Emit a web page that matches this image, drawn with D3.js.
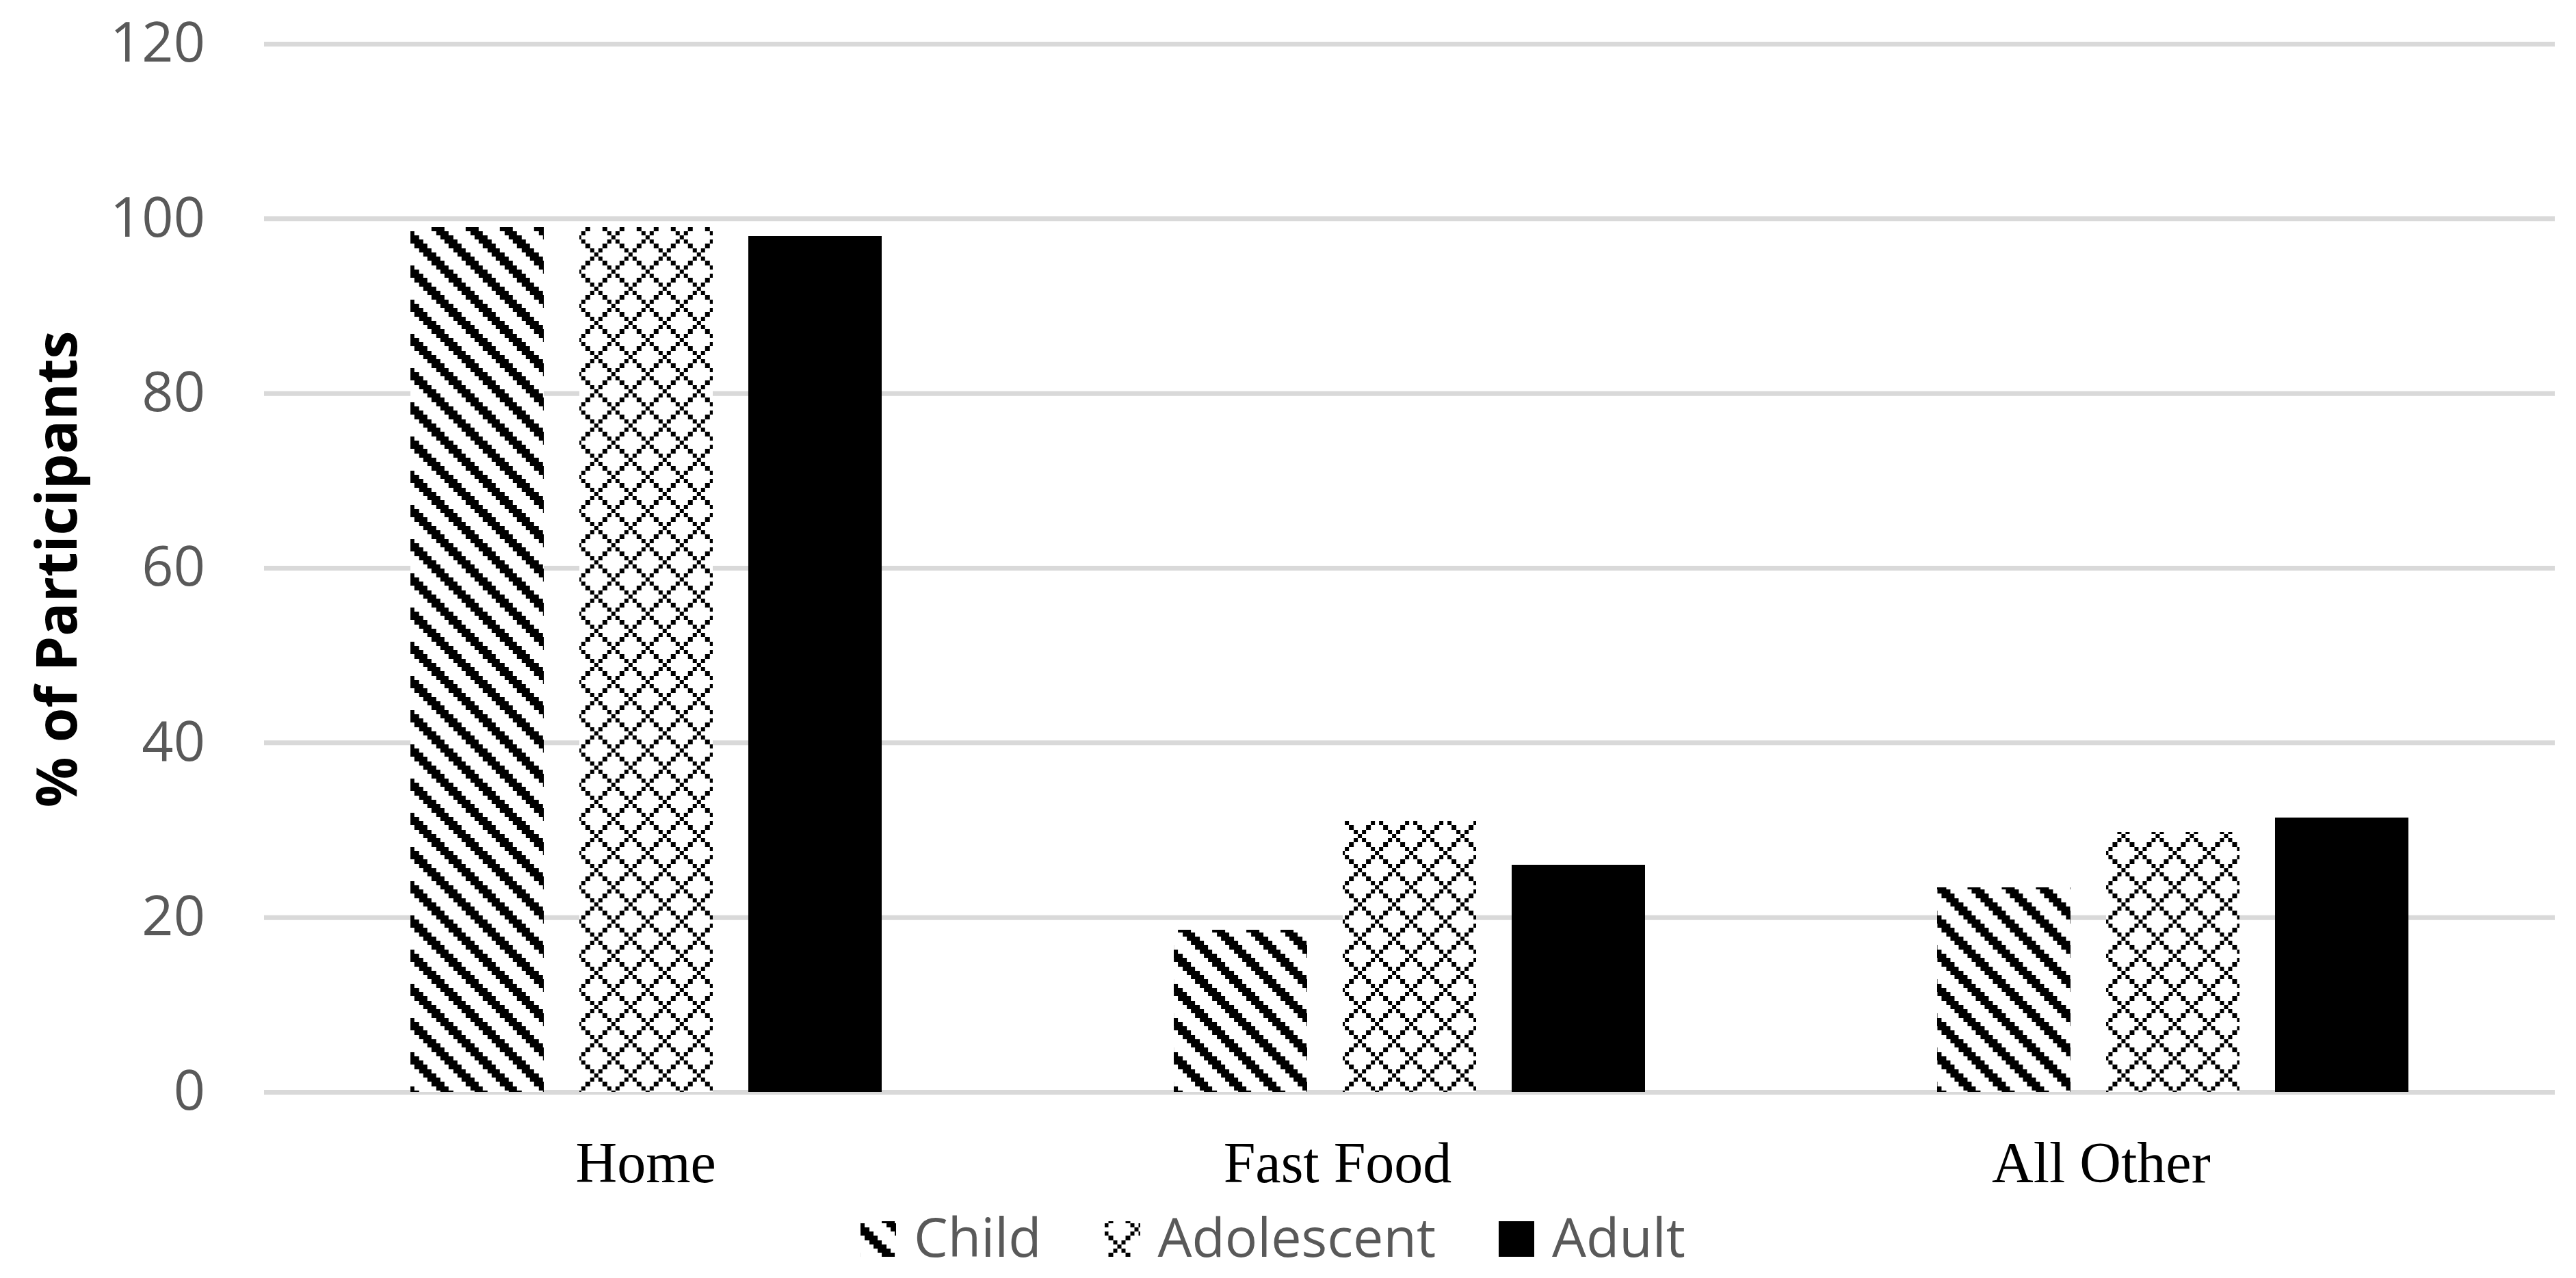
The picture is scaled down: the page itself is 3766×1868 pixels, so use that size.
<!DOCTYPE html>
<html>
<head>
<meta charset="utf-8">
<script src="https://cdn.jsdelivr.net/npm/d3@7"></script>
<style>
  body { margin: 0; background: #ffffff; }
  svg { display: block; }
</style>
</head>
<body>
<div id="scene"></div>
<script>
// chart values
var categories = ["Home", "Fast Food", "All Other"];
// the source labels carry trailing blanks, which is why two of them sit left of their bars
var categoryLabels = ["Home", "Fast Food\u00a0\u00a0\u00a0\u00a0\u00a0\u00a0\u00a0\u00a0\u00a0\u00a0", "All Other\u00a0\u00a0\u00a0\u00a0\u00a0\u00a0\u00a0\u00a0\u00a0\u00a0"];
var seriesNames = ["Child", "Adolescent", "Adult"];
var childValues = [99, 18.6, 23.4];
var adolescentValues = [99, 31, 29.8];
var adultValues = [98, 26, 31.4];
var yTicks = [0, 20, 40, 60, 80, 100, 120];
var yTitle = "% of Participants";

var ctx = {
  w: 3766,
  h: 1868,
  left: 386,
  right: 3735,
  top: 64,
  bottom: 1596,
  cell: 6.25,
};

// 8x8 bitmaps of the fill patterns (1 = black)
var stripeBits = [];
var latticeBits = [];
for (var r = 0; r < 8; r++) {
  var s = "", l = "";
  for (var c = 0; c < 8; c++) {
    var d = (c - r + 8) % 8;
    s += (d <= 2) ? "1" : "0";
    l += (c == r || c == (6 - r + 8) % 8) ? "1" : "0";
  }
  stripeBits.push(s);
  latticeBits.push(l);
}

var makePattern = function(defs, id, bits) {
  var p = defs.append("pattern")
    .attr("id", id)
    .attr("patternUnits", "userSpaceOnUse")
    .attr("x", 0).attr("y", 0)
    .attr("width", ctx.cell * 8)
    .attr("height", ctx.cell * 8);
  p.append("rect")
    .attr("width", ctx.cell * 8)
    .attr("height", ctx.cell * 8)
    .attr("fill", "#ffffff");
  for (var r = 0; r < 8; r++) {
    for (var c = 0; c < 8; c++) {
      if (bits[r][c] === "1") {
        p.append("rect")
          .attr("x", c * ctx.cell)
          .attr("y", r * ctx.cell)
          .attr("width", ctx.cell)
          .attr("height", ctx.cell)
          .attr("fill", "#000000")
          .attr("shape-rendering", "crispEdges");
      }
    }
  }
};

var createScene = function() {
  var svg = d3.select("#scene").append("svg")
    .attr("width", ctx.w)
    .attr("height", ctx.h);

  var defs = svg.append("defs");
  makePattern(defs, "childFill", stripeBits);
  makePattern(defs, "adolescentFill", latticeBits);

  var fills = ["url(#childFill)", "url(#adolescentFill)", "#000000"];

  var x0 = d3.scaleBand()
    .domain(categories)
    .range([ctx.left, ctx.right])
    .paddingInner(0.383)
    .paddingOuter(0.1915);

  var x1 = d3.scaleBand()
    .domain(seriesNames)
    .range([0, x0.bandwidth()])
    .paddingInner(0.211);

  var y = d3.scaleLinear()
    .domain([0, 120])
    .range([ctx.bottom, ctx.top]);

  // gridlines
  var yAxis = d3.axisLeft(y)
    .tickValues(yTicks)
    .tickSize(-(ctx.right - ctx.left))
    .tickPadding(86)
    .tickFormat(d3.format("d"));

  var gy = svg.append("g")
    .attr("transform", "translate(" + ctx.left + ",0)")
    .call(yAxis);
  gy.select(".domain").remove();
  gy.selectAll(".tick line")
    .attr("stroke", "#d9d9d9")
    .attr("stroke-width", 7);
  gy.selectAll(".tick text")
    .attr("fill", "#595959")
    .attr("font-family", "'Open Sans', sans-serif")
    .attr("font-size", 81);

  // bars
  var rows = categories.map(function(cat, i) {
    return {
      cat: cat,
      vals: [childValues[i], adolescentValues[i], adultValues[i]]
    };
  });

  var groups = svg.append("g").selectAll("g")
    .data(rows)
    .enter()
    .append("g")
    .attr("transform", function(d) { return "translate(" + x0(d.cat) + ",0)"; });

  groups.selectAll("rect")
    .data(function(d) {
      return d.vals.map(function(v, j) { return { name: seriesNames[j], v: v, j: j }; });
    })
    .enter()
    .append("rect")
    .attr("x", function(d) { return x1(d.name); })
    .attr("y", function(d) { return y(d.v); })
    .attr("width", x1.bandwidth())
    .attr("height", function(d) { return y(0) - y(d.v); })
    .attr("fill", function(d) { return fills[d.j]; })
    .attr("shape-rendering", "crispEdges");

  // category axis
  var xAxis = d3.axisBottom(x0)
    .tickSize(0)
    .tickPadding(0)
    .tickFormat(function(d, i) { return categoryLabels[i]; });

  var gx = svg.append("g")
    .attr("transform", "translate(0," + ctx.bottom + ")")
    .call(xAxis);
  gx.select(".domain").remove();
  gx.selectAll(".tick text")
    .attr("y", 132)
    .attr("dy", 0)
    .attr("fill", "#000000")
    .attr("font-family", "'Liberation Serif', 'Times New Roman', serif")
    .attr("font-size", 84)
    .style("white-space", "pre");

  // y title
  svg.append("text")
    .attr("transform", "translate(112," + 832 + ") rotate(-90)")
    .attr("text-anchor", "middle")
    .attr("fill", "#000000")
    .attr("font-family", "'Open Sans', sans-serif")
    .attr("font-weight", "bold")
    .attr("font-size", 82)
    .text(yTitle);

  // legend
  var legend = svg.append("g");
  var items = legend.selectAll("g")
    .data(seriesNames)
    .enter()
    .append("g");

  items.append("rect")
    .attr("y", 1785)
    .attr("width", 52)
    .attr("height", 52)
    .attr("fill", function(d, i) { return fills[i]; })
    .attr("shape-rendering", "crispEdges");

  items.append("text")
    .attr("x", 78)
    .attr("y", 1837)
    .attr("fill", "#595959")
    .attr("font-family", "'Open Sans', sans-serif")
    .attr("font-size", 79)
    .text(function(d) { return d; });

  var gap = 92;
  var offsets = [];
  var pos = 0;
  items.each(function() {
    offsets.push(pos);
    pos += 78 + d3.select(this).select("text").node().getComputedTextLength() + gap;
  });
  var total = pos - gap;
  var start = 1861 - total / 2;
  items.attr("transform", function(d, i) { return "translate(" + (start + offsets[i]) + ",0)"; });
};

createScene();
</script>
</body>
</html>
